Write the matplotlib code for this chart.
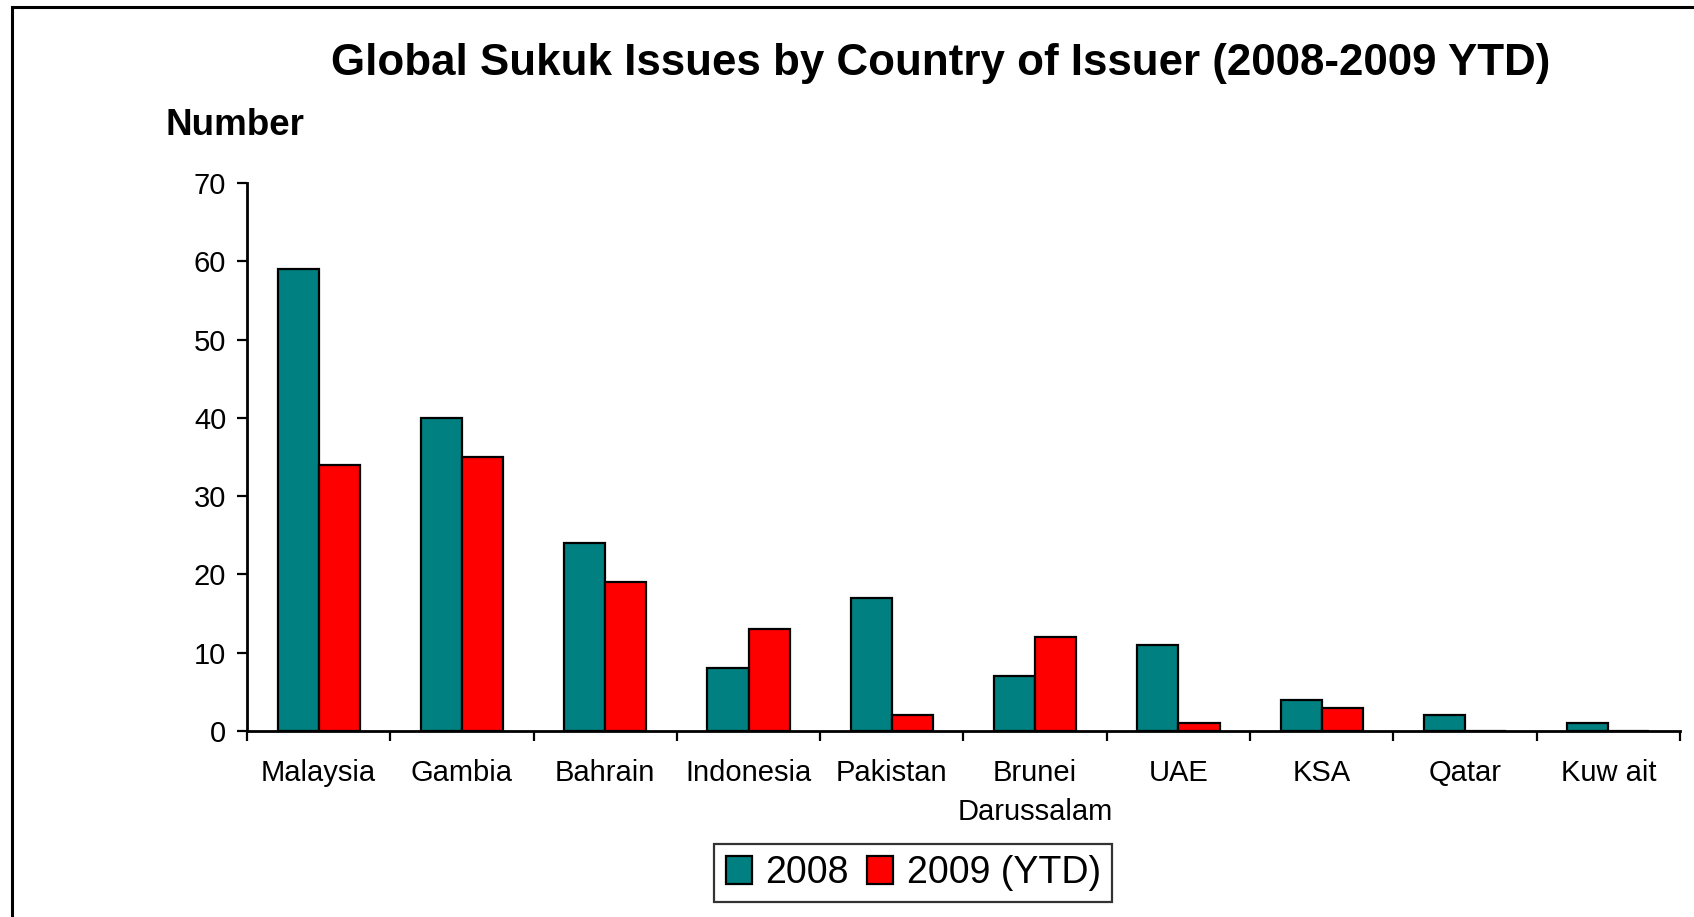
import matplotlib

matplotlib.use("Agg")

import matplotlib.pyplot as plt
import numpy as np
from matplotlib.patches import Rectangle

plt.rcParams["font.family"] = ["Liberation Sans", "DejaVu Sans"]

countries = [
    "Malaysia", "Gambia", "Bahrain", "Indonesia", "Pakistan",
    "Brunei\nDarussalam", "UAE", "KSA", "Qatar", "Kuw ait",
]
issues_2008 = [59, 40, 24, 8, 17, 7, 11, 4, 2, 1]
issues_2009 = [34, 35, 19, 13, 2, 12, 1, 3, 0, 0]
series_labels = ["2008", "2009 (YTD)"]
y_ticks = [0, 10, 20, 30, 40, 50, 60, 70]

fig = plt.figure(figsize=(16.94, 9.17), dpi=100)
fig.patch.set_facecolor("white")
ax = fig.add_axes([0.1458, 0.2028, 0.8459, 0.5976])

x = np.arange(len(countries))
width = 0.287
ax.bar(x - width / 2, issues_2008, width, color="#008080", edgecolor="black",
       linewidth=1.6, label=series_labels[0])
ax.bar(x + width / 2, issues_2009, width, color="#ff0000", edgecolor="black",
       linewidth=1.6, label=series_labels[1])

ax.set_xlim(-0.5, len(countries) - 0.5)
ax.set_ylim(0, 70)
ax.set_yticks(y_ticks)
ax.tick_params(axis="y", labelsize=21, length=7, width=1.6, pad=8, direction="out")

# ticks between categories, labels at the centres
ax.set_xticks(np.arange(len(countries) + 1) - 0.5)
ax.set_xticklabels([])
ax.set_xticks(x, minor=True)
ax.set_xticklabels(countries, minor=True, fontsize=21, linespacing=1.5)
ax.tick_params(axis="x", which="major", length=7, width=1.6, direction="out")
ax.tick_params(axis="x", which="minor", length=0, pad=20)

for side in ["top", "right"]:
    ax.spines[side].set_visible(False)
for side in ["left", "bottom"]:
    ax.spines[side].set_linewidth(2)

fig.text(0.555, 0.918, "Global Sukuk Issues by Country of Issuer (2008-2009 YTD)",
         ha="center", va="baseline", fontsize=31.6, fontweight="bold")
fig.text(0.0976, 0.853, "Number", ha="left", va="baseline", fontsize=26.5,
         fontweight="bold")

leg = ax.legend(loc="center", bbox_to_anchor=(0.539, 0.048),
                bbox_transform=fig.transFigure, ncol=2, fontsize=27,
                frameon=True, fancybox=False, handlelength=0.7, handleheight=0.8,
                handletextpad=0.35, columnspacing=0.5, borderpad=0.3,
                borderaxespad=0)
leg.get_frame().set_edgecolor("black")
leg.get_frame().set_linewidth(1.6)

# outer chart border, cut off at the right and bottom like the source
fig.add_artist(Rectangle((0.0071, -0.2), 1.2, 0.9924 + 0.2, transform=fig.transFigure,
                         fill=False, edgecolor="black", linewidth=2.2, clip_on=False))

fig.savefig("out.png", dpi=100, facecolor="white")
plt.close(fig)
